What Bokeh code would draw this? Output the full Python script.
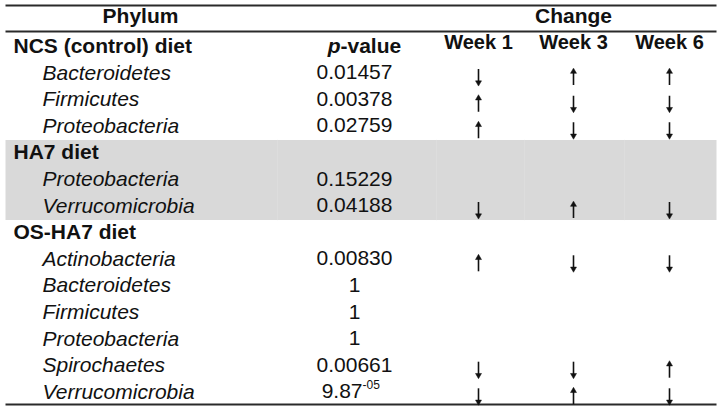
from bokeh.plotting import figure
from bokeh.models import Range1d
from bokeh.core.properties import value
from bokeh.embed import file_html
from bokeh.resources import INLINE

# ---------------- data ----------------
header_left = "Phylum"
header_right = "Change"
pvalue_header = ("p", "-value")
groups = ["NCS (control) diet", "HA7 diet", "OS-HA7 diet"]
row_group = [0, 0, 0, 1, 1, 2, 2, 2, 2, 2, 2]
phyla = ["Bacteroidetes", "Firmicutes", "Proteobacteria",
         "Proteobacteria", "Verrucomicrobia",
         "Actinobacteria", "Bacteroidetes", "Firmicutes", "Proteobacteria",
         "Spirochaetes", "Verrucomicrobia"]
p_values = ["0.01457", "0.00378", "0.02759",
            "0.15229", "0.04188",
            "0.00830", "1", "1", "1", "0.00661", "9.87"]
p_exponents = ["", "", "", "", "", "", "", "", "", "", "-05"]
weeks = ["Week 1", "Week 3", "Week 6"]
week1 = ["down", "up", "up", "", "down", "up", "", "", "", "down", "down"]
week3 = ["up", "down", "down", "", "up", "down", "", "", "", "down", "up"]
week6 = ["up", "down", "down", "", "down", "down", "", "", "", "up", "down"]
shaded_groups = ["HA7 diet"]

# ---------------- layout constants ----------------
FONT = value("Liberation Sans")
FS = "21px"
INK = "#111111"
W, H = 720, 411
X_LEFT, X_RIGHT = 5, 716
X_GROUP, X_PHY, X_P = 13, 42, 354
X_WEEK = [478, 573, 669]
Y_HEAD, Y_SUB, Y0, DY = 15, 43, 45, 26.6

p = figure(width=W, height=H, x_range=Range1d(0, W), y_range=Range1d(H, 0),
           x_axis_type=None, y_axis_type=None,
           toolbar_location=None, output_backend="svg", min_border=0,
           outline_line_color=None, background_fill_color="white")
p.xgrid.visible = False
p.ygrid.visible = False

# assign row indices
grp_rows, phy_rows = [], []
idx = 0
for gi, g in enumerate(groups):
    grp_rows.append(idx)
    idx += 1
    for ri, rg in enumerate(row_group):
        if rg == gi:
            phy_rows.append(idx)
            idx += 1
ys_grp = [Y0 + r * DY for r in grp_rows]
ys_phy = [Y0 + r * DY for r in phy_rows]

# shaded bands
for gi, g in enumerate(groups):
    if g in shaded_groups:
        member = [ys_phy[i] for i, rg in enumerate(row_group) if rg == gi]
        top = ys_grp[gi] - 12
        bottom = max(member) + 15
        p.quad(left=[X_LEFT], right=[X_RIGHT], top=[top], bottom=[bottom],
               fill_color="#d9d9d9", line_color=None)
        vx = [277, 436, 524, 624]
        p.segment(x0=vx, x1=vx, y0=[top] * 4, y1=[bottom] * 4,
                  line_color="#dddddd", line_width=1)

# rules
rule_y = [5, 31, 404]
p.segment(x0=[X_LEFT] * 3, x1=[X_RIGHT] * 3, y0=rule_y, y1=rule_y,
          line_color="#2a2a2a", line_width=2)

common = dict(text_font=FONT, text_baseline="middle", text_color=INK)

# headers
p.text(x=[140], y=[Y_HEAD], text=[header_left], text_font_size=FS,
       text_font_style="bold", text_align="center", **common)
p.text(x=[573], y=[Y_HEAD], text=[header_right], text_font_size=FS,
       text_font_style="bold", text_align="center", **common)
p.text(x=X_WEEK, y=[Y_SUB - 2] * 3, text=weeks, text_font_size="20px",
       text_font_style="bold", text_align="center", **common)
p.text(x=[340], y=[Y_SUB + 2], text=[pvalue_header[0]], text_font_size=FS,
       text_font_style="bold italic", text_align="right", **common)
p.text(x=[340], y=[Y_SUB + 2], text=[pvalue_header[1]], text_font_size=FS,
       text_font_style="bold", text_align="left", **common)

# group labels
p.text(x=[X_GROUP] * len(groups), y=ys_grp, text=groups, text_font_size=FS,
       text_font_style="bold", text_align="left", **common)

# phylum names
p.text(x=[X_PHY] * len(phyla), y=ys_phy, text=phyla, text_font_size=FS,
       text_font_style="italic", text_align="left", **common)

# p-values
plain = [i for i in range(len(p_values)) if not p_exponents[i]]
expo = [i for i in range(len(p_values)) if p_exponents[i]]
p.text(x=[X_P] * len(plain), y=[ys_phy[i] for i in plain], text=[p_values[i] for i in plain],
       text_font_size=FS, text_align="center", **common)
if expo:
    p.text(x=[X_P + 8] * len(expo), y=[ys_phy[i] for i in expo], text=[p_values[i] for i in expo],
           text_font_size=FS, text_align="right", **common)
    p.text(x=[X_P + 8] * len(expo), y=[ys_phy[i] - 7 for i in expo], text=[p_exponents[i] for i in expo],
           text_font_size="12px", text_align="left", **common)

# arrows (shaft + head)
ARROW_DY, HALF = 5, 8
for xw, col in zip(X_WEEK, [week1, week3, week6]):
    ups = [i for i, c in enumerate(col) if c == "up"]
    downs = [i for i, c in enumerate(col) if c == "down"]
    cy_u = [ys_phy[i] + ARROW_DY for i in ups]
    cy_d = [ys_phy[i] + ARROW_DY for i in downs]
    # up arrows
    p.segment(x0=[xw] * len(ups), x1=[xw] * len(ups),
              y0=[c + HALF for c in cy_u], y1=[c - HALF + 3 for c in cy_u],
              line_color=INK, line_width=1.6)
    p.scatter(x=[xw] * len(ups), y=[c - HALF + 2.5 for c in cy_u], marker="triangle",
              size=6, fill_color=INK, line_color=INK, line_width=0.5)
    # down arrows
    p.segment(x0=[xw] * len(downs), x1=[xw] * len(downs),
              y0=[c - HALF for c in cy_d], y1=[c + HALF - 3 for c in cy_d],
              line_color=INK, line_width=1.6)
    p.scatter(x=[xw] * len(downs), y=[c + HALF - 2.5 for c in cy_d], marker="inverted_triangle",
              size=6, fill_color=INK, line_color=INK, line_width=0.5)

open("out.html", "w").write(file_html(p, INLINE))
